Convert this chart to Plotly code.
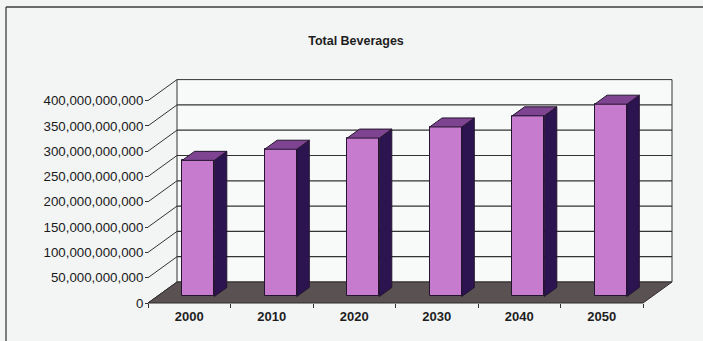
import plotly.graph_objects as go

# ---- data -------------------------------------------------------------
years = ["2000", "2010", "2020", "2030", "2040", "2050"]
total_beverages = [269e9, 291e9, 313e9, 335e9, 357e9, 380e9]
y_tick_values = [0, 50e9, 100e9, 150e9, 200e9, 250e9, 300e9, 350e9, 400e9]
y_tick_labels = [f"{int(v):,}" for v in y_tick_values]
chart_title = "Total Beverages"

# ---- pseudo-3D geometry (pixels -> data units) -----------------------
W, H = 703, 341
CAT_PX = 82.5            # width of one category on the floor's front edge
FLOOR_LEFT_PX = 148      # x of the front-left floor corner
FLOOR_FRONT_PX = 303     # y of the floor's front edge
PX_PER_VALUE = 0.506e-9  # vertical pixels per unit of value
DEPTH_PX = (29, 21)      # receding offset of the back wall

n = len(years)
ymax = y_tick_values[-1]
dx = DEPTH_PX[0] / CAT_PX
dy = DEPTH_PX[1] / PX_PER_VALUE
x_range = [-FLOOR_LEFT_PX / CAT_PX, (W - FLOOR_LEFT_PX) / CAT_PX]
y_range = [-(H - FLOOR_FRONT_PX) / PX_PER_VALUE, FLOOR_FRONT_PX / PX_PER_VALUE]

# bar placement inside the depth of the floor
f_front, f_back = 0.31, 0.74
bar_w = 0.39
bd = f_back - f_front

WALL = "#f8f9f9"
FLOOR = "#5a5252"
GRID = "#333333"
FRONT = "#c67bcf"
TOP = "#7e4492"
SIDE = "#2c1450"
EDGE = "#24142e"

shapes = []
# back wall
shapes.append(dict(type="rect", xref="x", yref="y", x0=dx, x1=n + dx, y0=dy, y1=ymax + dy,
                   fillcolor=WALL, line=dict(color=GRID, width=1), layer="below"))
# back wall gridlines
for v in y_tick_values[1:-1]:
    shapes.append(dict(type="line", xref="x", yref="y", x0=dx, x1=n + dx, y0=v + dy, y1=v + dy,
                       line=dict(color=GRID, width=1.2), layer="below"))
# side wall receding lines
for v in y_tick_values:
    shapes.append(dict(type="line", xref="x", yref="y", x0=0, x1=dx, y0=v, y1=v + dy,
                       line=dict(color=GRID, width=1), layer="below"))
# floor
shapes.append(dict(type="path", xref="x", yref="y",
                   path=f"M 0,0 L {n},0 L {n + dx},{dy} L {dx},{dy} Z",
                   fillcolor=FLOOR, line=dict(color="#2e2a2a", width=1), layer="below"))
# outer chart frame (top and left edges)
shapes.append(dict(type="line", xref="paper", yref="paper", x0=6 / W, x1=1, y0=1 - 7 / H, y1=1 - 7 / H,
                   line=dict(color="#3c3c3c", width=1.3)))
shapes.append(dict(type="line", xref="paper", yref="paper", x0=6 / W, x1=6 / W, y0=0, y1=1 - 7 / H,
                   line=dict(color="#3c3c3c", width=1.3)))

base = f_front * dy
front_x = [i + 0.5 + f_front * dx for i in range(n)]

fig = go.Figure()
fig.add_trace(go.Bar(x=front_x, y=total_beverages, base=base, width=bar_w,
                     marker=dict(color=FRONT, line=dict(color=EDGE, width=1)),
                     hoverinfo="skip", showlegend=False))

top_x, top_y, side_x, side_y = [], [], [], []
for xc, v in zip(front_x, total_beverages):
    xl, xr = xc - bar_w / 2, xc + bar_w / 2
    top = base + v
    ox, oy = bd * dx, bd * dy
    top_x += [xl, xr, xr + ox, xl + ox, xl, None]
    top_y += [top, top, top + oy, top + oy, top, None]
    side_x += [xr, xr + ox, xr + ox, xr, xr, None]
    side_y += [base, base + oy, top + oy, top, base, None]

fig.add_trace(go.Scatter(x=side_x, y=side_y, mode="lines", fill="toself", fillcolor=SIDE,
                         line=dict(color=EDGE, width=1), hoverinfo="skip", showlegend=False))
fig.add_trace(go.Scatter(x=top_x, y=top_y, mode="lines", fill="toself", fillcolor=TOP,
                         line=dict(color=EDGE, width=1), hoverinfo="skip", showlegend=False))

FONT = "Liberation Sans, Arial, sans-serif"

fig.update_layout(
    width=W, height=H,
    margin=dict(l=0, r=0, t=0, b=0),
    paper_bgcolor="#f3f5f5",
    plot_bgcolor="rgba(0,0,0,0)",
    shapes=shapes,
    bargap=0,
    title=dict(text=f"<b>{chart_title}</b>", x=356 / W, y=1 - 41 / H, xanchor="center", yanchor="middle",
               font=dict(family=FONT, size=12.5, color="#1e1e1e")),
    xaxis=dict(range=x_range, showgrid=False, zeroline=False, showline=False,
               tickmode="array", tickvals=[i + 0.5 for i in range(n)], ticktext=[f"<b>{y}</b>" for y in years],
               ticks="", anchor="free", position=(H - FLOOR_FRONT_PX) / H,
               ticklabelstandoff=4,
               tickfont=dict(family=FONT, size=13, color="#1e1e1e"),
               minor=dict(tickmode="array", tickvals=list(range(n + 1)), ticks="outside",
                          ticklen=4, tickcolor=GRID, showgrid=False)),
    yaxis=dict(range=y_range, showgrid=False, zeroline=False, showline=False,
               tickmode="array", tickvals=y_tick_values, ticktext=y_tick_labels,
               ticks="outside", ticklen=3, tickcolor=GRID, ticklabelstandoff=-1,
               anchor="free", position=FLOOR_LEFT_PX / W,
               tickfont=dict(family=FONT, size=13.3, color="#1a1a1a")),
)

fig.write_html("out.html")
